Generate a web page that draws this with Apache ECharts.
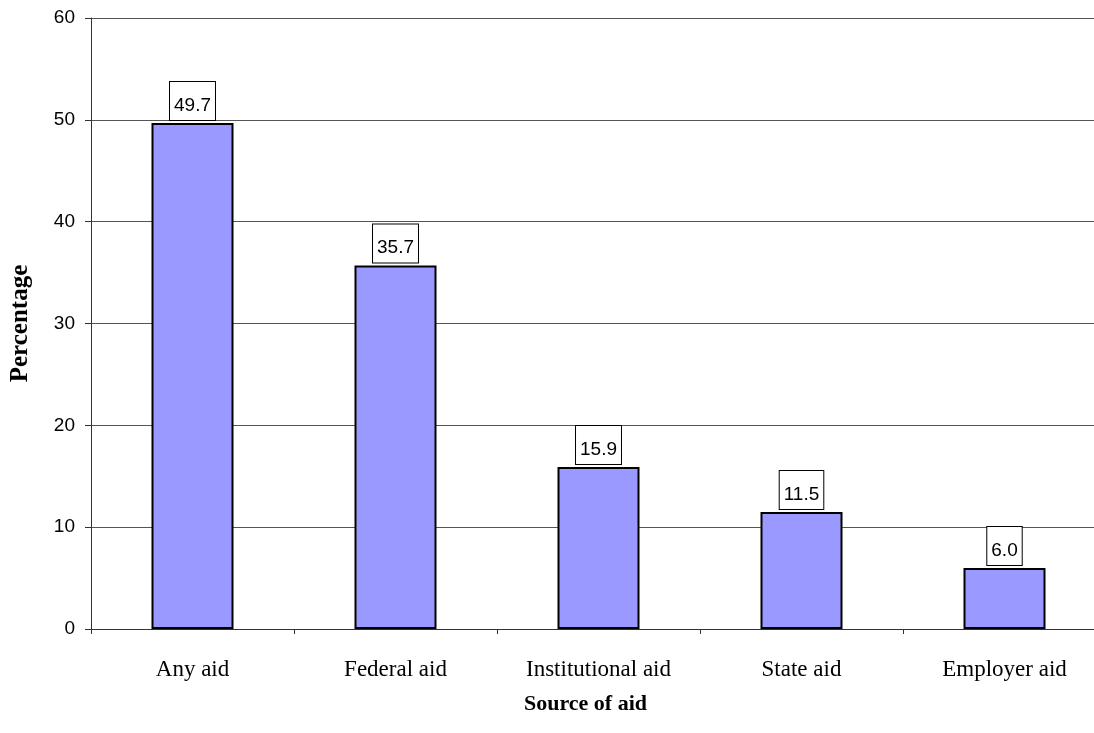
<!DOCTYPE html>
<html>
<head>
<meta charset="utf-8">
<script src="https://cdn.jsdelivr.net/npm/echarts@6/dist/echarts.min.js"></script>
<style>
  html, body { margin: 0; padding: 0; background: #fff; }
  #chart { width: 1094px; height: 733px; }
</style>
</head>
<body>
<div id="chart"></div>
<script>
// Share of students receiving aid, by source
const categories = ['Any aid', 'Federal aid', 'Institutional aid', 'State aid', 'Employer aid'];
const percentages = [49.7, 35.7, 15.9, 11.5, 6.0];
const yTicks = [0, 10, 20, 30, 40, 50, 60];

const chart = echarts.init(document.getElementById('chart'), null, { renderer: 'canvas' });

chart.setOption({
  animation: false,
  backgroundColor: '#fff',
  // plot runs a little past the right edge of the canvas
  grid: { left: 91, top: 18, width: 1015, height: 611, containLabel: false, outerBoundsMode: 'none' },
  xAxis: {
    type: 'category',
    data: categories,
    name: 'Source of aid',
    nameLocation: 'middle',
    nameGap: 64,
    // centred on the visible part of the plot
    nameTextStyle: { fontFamily: 'Liberation Serif', fontWeight: 'bold', fontSize: 22, color: '#000', padding: [0, 26, 0, 0] },
    axisLine: { lineStyle: { color: '#333', width: 1 } },
    axisTick: { show: true, alignWithLabel: false, length: 5, lineStyle: { color: '#333' } },
    axisLabel: { fontFamily: 'Liberation Serif', fontSize: 23, color: '#000', margin: 29, interval: 0 },
    splitLine: { show: false }
  },
  yAxis: {
    type: 'value',
    min: yTicks[0],
    max: yTicks[yTicks.length - 1],
    interval: 10,
    name: 'Percentage',
    nameLocation: 'middle',
    nameGap: 58,
    nameTextStyle: { fontFamily: 'Liberation Serif', fontWeight: 'bold', fontSize: 25, color: '#000' },
    axisLine: { show: true, lineStyle: { color: '#333', width: 1 } },
    axisTick: { show: true, length: 6, lineStyle: { color: '#333' } },
    axisLabel: { fontFamily: 'Liberation Sans', fontSize: 19, color: '#000', margin: 16 },
    splitLine: { show: true, lineStyle: { color: '#555', width: 1 } }
  },
  series: [{
    type: 'bar',
    data: percentages,
    barWidth: 82,
    itemStyle: { color: '#9999FF', borderColor: '#000', borderWidth: 2 },
    label: {
      show: true,
      position: 'top',
      distance: 3,
      formatter: p => p.value.toFixed(1),
      fontFamily: 'Liberation Sans',
      fontSize: 19,
      lineHeight: 19,
      color: '#000',
      backgroundColor: '#fff',
      borderColor: '#000',
      borderWidth: 1,
      padding: [14, 4, 5, 4]
    }
  }]
});
</script>
</body>
</html>
